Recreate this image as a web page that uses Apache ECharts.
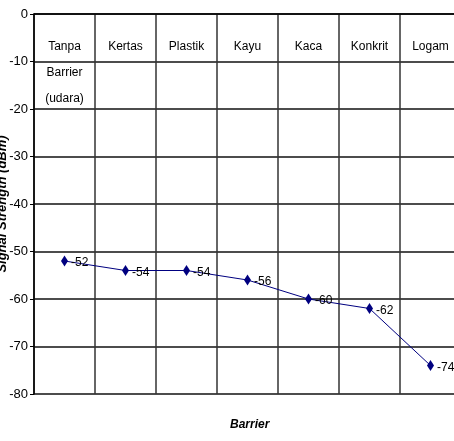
<!DOCTYPE html>
<html><head><meta charset="utf-8">
<script src="https://cdn.jsdelivr.net/npm/echarts@6/dist/echarts.min.js"></script>
<style>html,body{margin:0;padding:0;background:#fff}#c{width:454px;height:441px}</style>
</head><body><div id="c"></div>
<script>
var categories = ['Tanpa\nBarrier\n(udara)', 'Kertas', 'Plastik', 'Kayu', 'Kaca', 'Konkrit', 'Logam'];
var signalValues = [-52, -54, -54, -56, -60, -62, -74];
var yTicks = [0, -10, -20, -30, -40, -50, -60, -70, -80];
var font = '"Liberation Sans Narrow", "Liberation Sans", Arial, sans-serif';
var chart = echarts.init(document.getElementById('c'));
chart.setOption({
  animation: false,
  backgroundColor: '#fff',
  grid: { left: 34, top: 14, width: 427, height: 380, containLabel: false, outerBoundsMode: 'none' },
  xAxis: {
    type: 'category', position: 'top', data: categories, boundaryGap: true,
    axisLine: { show: true, lineStyle: { color: '#000', width: 1.5 } },
    axisTick: { show: false },
    splitLine: { show: true, lineStyle: { color: '#333', width: 1.5 } },
    axisLabel: { inside: true, margin: 20, verticalAlign: 'top', fontFamily: font, fontSize: 12, color: '#000', lineHeight: 26, interval: 0 }
  },
  yAxis: {
    type: 'value', min: -80, max: 0, interval: 10,
    name: 'Signal Strength (dBm)', nameLocation: 'middle', nameGap: 25, nameRotate: 90, nameMoveOverlap: false,
    nameTextStyle: { fontFamily: font, fontSize: 13, fontWeight: 'bold', fontStyle: 'italic', color: '#000' },
    axisLine: { show: true, lineStyle: { color: '#000', width: 1.5 } },
    axisTick: { show: true, length: 4, lineStyle: { color: '#000' } },
    splitLine: { show: true, lineStyle: { color: '#111', width: 1.5 } },
    axisLabel: { fontFamily: font, fontSize: 13, color: '#000', margin: 6,
      formatter: function (v) { return yTicks.indexOf(v) >= 0 ? String(v) : ''; } }
  },
  graphic: [{ type: 'text', left: 230, top: 419, style: { text: 'Barrier', font: 'italic bold 12px ' + font, fill: '#000' } }],
  series: [{
    type: 'line', data: signalValues,
    symbol: 'diamond', symbolSize: [7, 11],
    itemStyle: { color: '#000080' },
    lineStyle: { color: '#000080', width: 1 },
    label: { show: true, position: 'right', distance: 3, offset: [0, 2], fontFamily: font, fontSize: 12, color: '#000' }
  }]
});
</script></body></html>
